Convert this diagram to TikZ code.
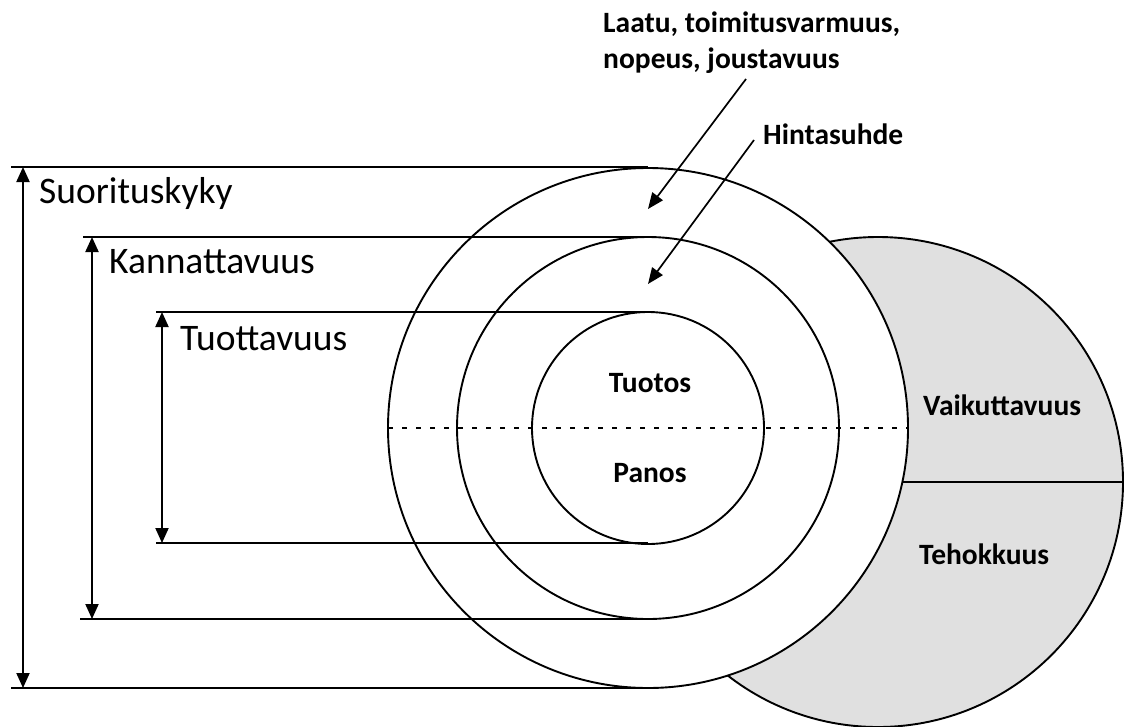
\documentclass[tikz,border=0pt]{standalone}
\usepackage{fontspec}
\setmainfont{Carlito}
\usetikzlibrary{arrows.meta}
\definecolor{shade}{RGB}{224,224,224}
\tikzset{
  ln/.style={line width=1.9pt, black},
  dimarrow/.style={line width=2pt, {Triangle[length=15pt,width=13pt]}-{Triangle[length=15pt,width=13pt]}},
  ptr/.style={line width=1.7pt, -{Triangle[length=16pt,width=13pt]}},
  biglabel/.style={font=\fontsize{37.5}{42}\selectfont, inner sep=0pt},
  boldlabel/.style={font=\bfseries\fontsize{29.5}{36}\selectfont, inner sep=0pt}
}
\begin{document}
\begin{tikzpicture}[x=1pt,y=-1pt]
\useasboundingbox (0,0) rectangle (1124,726);
% gray circle behind
\draw[ln, fill=shade] (878,482) circle[radius=245];
\coordinate (gc) at (878,482);
\coordinate (gr) at (1123,482);
% outer white circle
\draw[ln, fill=white] (648,428) circle[radius=260];
\draw[ln] (648,428) circle[radius=191];
\draw[ln] (648,428) circle[radius=116];
% named tangent points
\coordinate (o1t) at (648,167);
\coordinate (o1b) at (648,688);
\coordinate (o2t) at (648,237);
\coordinate (o2b) at (648,619);
\coordinate (o3t) at (648,312);
\coordinate (o3b) at (648,543);
\coordinate (l1t) at (11,167);
\coordinate (l1b) at (11,688);
\coordinate (l2t) at (83,237);
\coordinate (l2b) at (80,619);
\coordinate (l3t) at (156,312);
\coordinate (l3b) at (156,543);
\coordinate (a1t) at (23,167);
\coordinate (a1b) at (23,688);
\coordinate (a2t) at (92,237);
\coordinate (a2b) at (92,619);
\coordinate (a3t) at (162,312);
\coordinate (a3b) at (162,543);
% horizontal lines
\draw[ln] (l1t) -- (o1t);
\draw[ln] (l1b) -- (o1b);
\draw[ln] (l2t) -- (o2t);
\draw[ln] (l2b) -- (o2b);
\draw[ln] (l3t) -- (o3t);
\draw[ln] (l3b) -- (o3b);
% vertical double arrows
\draw[dimarrow] (a1b) -- (a1t);
\draw[dimarrow] (a2b) -- (a2t);
\draw[dimarrow] (a3b) -- (a3t);
% dashed line
\coordinate (dl) at (388,428);
\coordinate (dr) at (908,428);
\draw[line width=2.4pt, dash pattern=on 5pt off 9pt] (dl) -- (dr);
% solid line in gray circle
\coordinate (sl) at (902,482);
\draw[ln] (sl) -- (gr);
% labels
\node[biglabel, anchor=base west] (suor) at (39,203) {Suorituskyky};
\node[biglabel, anchor=base west] (kann) at (109,273) {Kannattavuus};
\node[biglabel, anchor=base west] (tuot) at (180,350) {Tuottavuus};
\node[boldlabel, anchor=base] (tuotos) at (650,392) {Tuotos};
\node[boldlabel, anchor=base] (panos) at (650,482) {Panos};
\node[boldlabel, anchor=base west] (vaik) at (923,415) {Vaikuttavuus};
\node[boldlabel, anchor=base west] (teho) at (919,564) {Tehokkuus};
\node[boldlabel, anchor=base west] (laatu1) at (603,32) {Laatu, toimitusvarmuus,};
\node[boldlabel, anchor=base west] (laatu2) at (603,68) {nopeus, joustavuus};
\node[boldlabel, anchor=base west] (hinta) at (763,144) {Hintasuhde};
% pointer arrows
\coordinate (p1s) at (746,79);
\coordinate (p1e) at (648,209);
\coordinate (p2s) at (754,140);
\coordinate (p2e) at (648,284);
\draw[ptr] (p1s) -- (p1e);
\draw[ptr] (p2s) -- (p2e);
\end{tikzpicture}
\end{document}
